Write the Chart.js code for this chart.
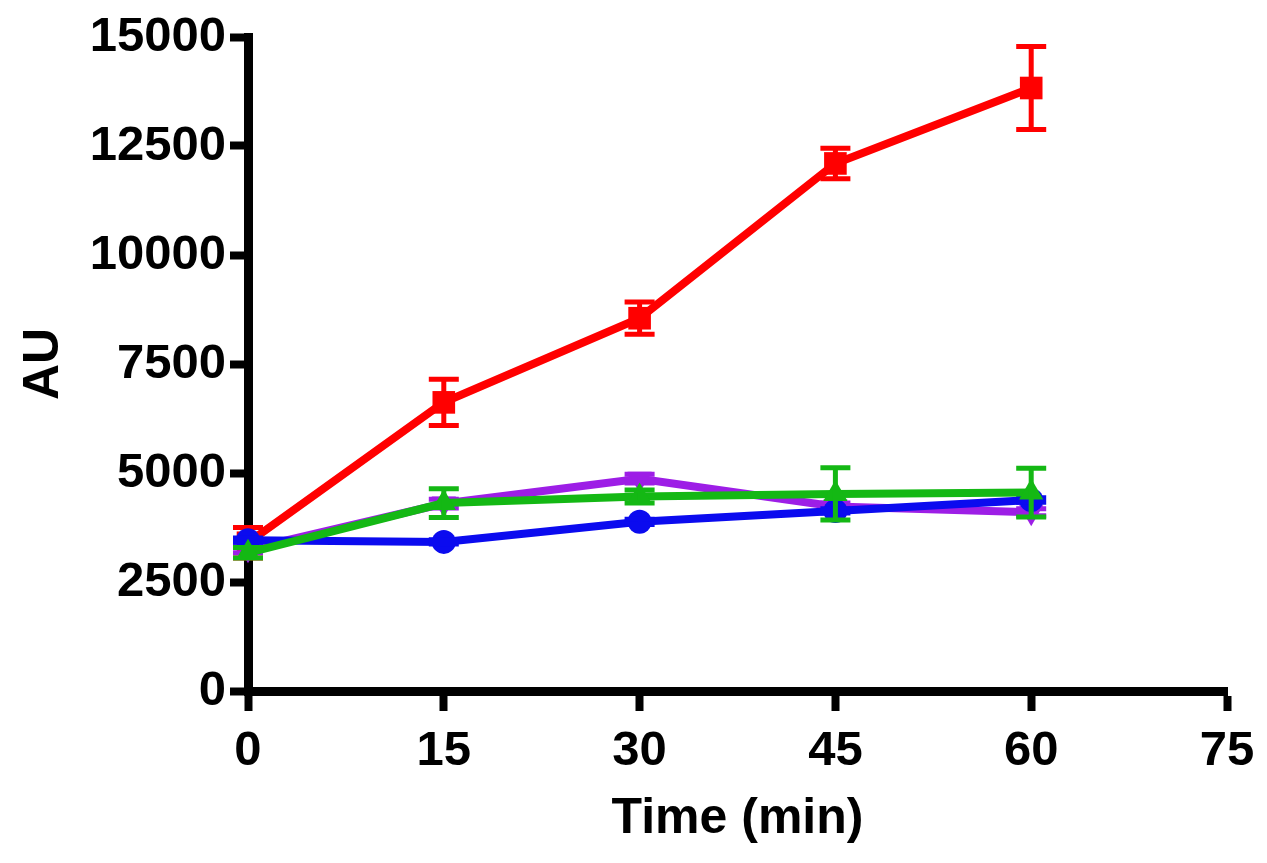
<!DOCTYPE html>
<html>
<head>
<meta charset="utf-8">
<script src="https://cdn.jsdelivr.net/npm/chart.js@4.4.1/dist/chart.umd.min.js"></script>
<style>
  html, body { margin: 0; padding: 0; background: #fff; }
  canvas { display: block; }
</style>
</head>
<body>
<canvas id="chartAU" width="1267" height="863"></canvas>
<script>
// time points (min)
const timeMin = [0, 15, 30, 45, 60];

// mean values (AU) and error (+/-)
const redMean = [3400, 6620, 8550, 12100, 13830];
const redErr = [350, 530, 370, 350, 950];

const purpleMean = [3250, 4300, 4870, 4230, 4100];
const purpleErr = [80, 100, 100, 80, 80];

const blueMean = [3460, 3420, 3880, 4130, 4380];
const blueErr = [50, 50, 60, 50, 50];

const greenMean = [3170, 4310, 4460, 4520, 4550];
const greenErr = [120, 330, 150, 600, 560];

// axis ticks
const xTicks = { min: 0, max: 75, step: 15 };
const yTicks = { min: 0, max: 15000, step: 2500 };

const RED = "#ff0000";
const PURPLE = "#9d1ee6";
const BLUE = "#0b0bef";
const GREEN = "#14b814";

const FONT = "'Liberation Sans', Arial, Helvetica, sans-serif";

function toPoints(means) {
    return timeMin.map((t, i) => ({ x: t, y: means[i] }));
}

// error bars drawn right after each dataset, through the chart scales
const errorBars = {
    id: "errorBars",
    afterDatasetDraw(chart, args) {
        const ds = chart.data.datasets[args.index];
        if (!ds.errors) return;
        const ctx = chart.ctx;
        const xs = chart.scales.x;
        const ys = chart.scales.y;
        ctx.save();
        ctx.strokeStyle = ds.borderColor;
        ctx.lineWidth = 5;
        ctx.lineCap = "butt";
        ds.data.forEach((p, i) => {
            const e = ds.errors[i];
            const px = xs.getPixelForValue(p.x);
            const top = ys.getPixelForValue(p.y + e);
            const bot = ys.getPixelForValue(p.y - e);
            const half = 15;
            ctx.beginPath();
            ctx.moveTo(px, top);
            ctx.lineTo(px, bot);
            ctx.moveTo(px - half, top);
            ctx.lineTo(px + half, top);
            ctx.moveTo(px - half, bot);
            ctx.lineTo(px + half, bot);
            ctx.stroke();
        });
        ctx.restore();
    }
};

const chartAU = document.getElementById("chartAU");

new Chart(chartAU, {
    type: "line",
    data: {
        datasets: [
            {
                label: "green",
                data: toPoints(greenMean),
                errors: greenErr,
                borderColor: GREEN,
                backgroundColor: GREEN,
                pointStyle: "triangle",
                pointRadius: 14,
                order: 1,
            },
            {
                label: "blue",
                data: toPoints(blueMean),
                errors: blueErr,
                borderColor: BLUE,
                backgroundColor: BLUE,
                pointStyle: "circle",
                pointRadius: 12,
                order: 2,
            },
            {
                label: "purple",
                data: toPoints(purpleMean),
                errors: purpleErr,
                borderColor: PURPLE,
                backgroundColor: PURPLE,
                pointStyle: "triangle",
                pointRotation: 180,
                pointRadius: 14,
                order: 3,
            },
            {
                label: "red",
                data: toPoints(redMean),
                errors: redErr,
                borderColor: RED,
                backgroundColor: RED,
                pointStyle: "rect",
                pointRadius: 16,
                order: 4,
            },
        ],
    },
    options: {
        responsive: false,
        animation: false,
        devicePixelRatio: 1,
        layout: {
            padding: { top: 37, right: 40, left: 0, bottom: 0 },
        },
        elements: {
            line: { borderWidth: 8, tension: 0 },
            point: { borderWidth: 0, hoverRadius: 14 },
        },
        datasets: {
            line: { clip: false },
        },
        plugins: {
            legend: { display: false },
            tooltip: { enabled: false },
        },
        scales: {
            x: {
                type: "linear",
                min: xTicks.min,
                max: xTicks.max,
                afterFit: (s) => { s.height = 172; },
                ticks: {
                    stepSize: xTicks.step,
                    color: "#000",
                    padding: 11,
                    callback: (v) => String(v),
                    font: { family: FONT, size: 49, weight: "bold" },
                },
                grid: {
                    display: true,
                    drawOnChartArea: false,
                    drawTicks: true,
                    tickLength: 20,
                    tickWidth: 8,
                    tickColor: "#000",
                },
                border: { display: true, color: "#000", width: 9 },
                title: {
                    display: true,
                    text: "Time (min)",
                    color: "#000",
                    padding: { top: 0, bottom: 14 },
                    font: { family: FONT, size: 50, weight: "bold" },
                },
            },
            y: {
                type: "linear",
                min: yTicks.min,
                max: yTicks.max,
                afterFit: (s) => { s.width = 248; },
                ticks: {
                    stepSize: yTicks.step,
                    color: "#000",
                    padding: 4,
                    callback: (v) => String(v),
                    font: { family: FONT, size: 49, weight: "bold" },
                },
                grid: {
                    display: true,
                    drawOnChartArea: false,
                    drawTicks: true,
                    tickLength: 18,
                    tickWidth: 8,
                    tickColor: "#000",
                },
                border: { display: true, color: "#000", width: 9 },
                title: {
                    display: true,
                    text: "AU",
                    color: "#000",
                    padding: { top: 14, bottom: 0 },
                    font: { family: FONT, size: 50, weight: "bold" },
                },
            },
        },
    },
    plugins: [errorBars],
});
</script>
</body>
</html>
